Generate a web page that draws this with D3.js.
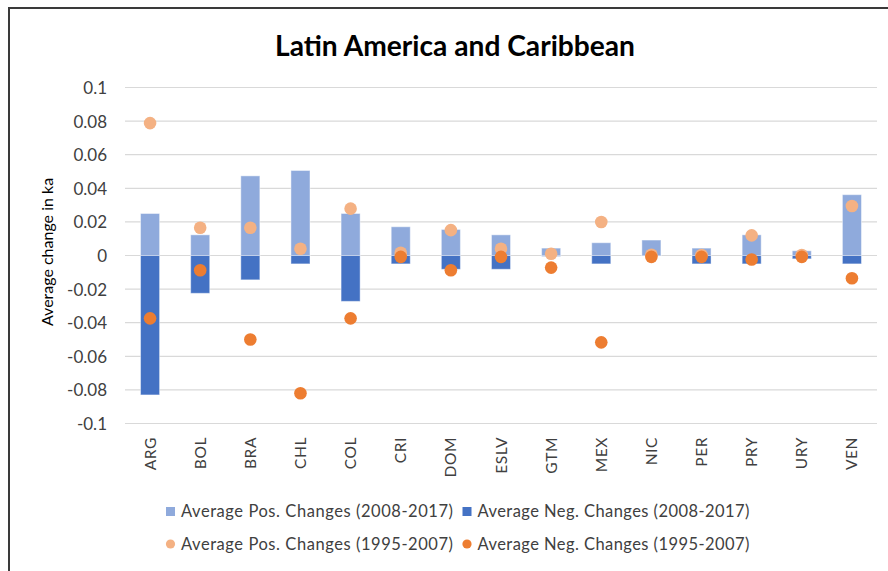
<!DOCTYPE html>
<html>
<head>
<meta charset="utf-8">
<script src="https://cdn.jsdelivr.net/npm/d3@7"></script>
<style>
  html, body { margin: 0; padding: 0; background: #fff; }
  svg { display: block; font-family: Lato, "Open Sans", sans-serif; }
</style>
</head>
<body>
<svg id="chart" width="888" height="571"></svg>
<script>
// Countries on the category axis
const countries = ["ARG", "BOL", "BRA", "CHL", "COL", "CRI", "DOM", "ESLV", "GTM", "MEX", "NIC", "PER", "PRY", "URY", "VEN"];

// Columns: average changes 2008-2017
const posChanges0817 = [0.025, 0.0123, 0.0474, 0.0506, 0.025, 0.0171, 0.0155, 0.0123, 0.0044, 0.0076, 0.0092, 0.0044, 0.0123, 0.0028, 0.0362];
const negChanges0817 = [-0.083, -0.0225, -0.0145, -0.005, -0.0273, -0.005, -0.0082, -0.0082, -0.0005, -0.005, -0.0003, -0.005, -0.005, -0.002, -0.005];

// Markers: average changes 1995-2007
const posChanges9507 = [0.0788, 0.0165, 0.0165, 0.004, 0.0279, 0.0016, 0.0151, 0.004, 0.001, 0.0199, 0.0004, 0.0003, 0.012, 0.0003, 0.0295];
const negChanges9507 = [-0.0374, -0.0088, -0.05, -0.082, -0.0374, -0.0008, -0.0088, -0.0008, -0.0072, -0.0517, -0.0008, -0.0008, -0.0024, -0.0008, -0.0135];

// Value axis ticks
const yTicks = [0.1, 0.08, 0.06, 0.04, 0.02, 0, -0.02, -0.04, -0.06, -0.08, -0.1];

const seriesNames = [
  "Average Pos. Changes (2008-2017)",
  "Average Neg. Changes (2008-2017)",
  "Average Pos. Changes (1995-2007)",
  "Average Neg. Changes (1995-2007)"
];

const colors = {
  posBar: "#8FAADC",
  negBar: "#4472C4",
  posDot: "#F4B183",
  negDot: "#ED7D31",
  grid: "#D9D9D9",
  text: "#404040"
};

const svg = d3.select("#chart");

// Outer chart frame
svg.append("rect")
  .attr("x", 9).attr("y", 8)
  .attr("width", 900).attr("height", 600)
  .attr("fill", "none")
  .attr("stroke", "#3a3a3a")
  .attr("stroke-width", 2);

const x = d3.scaleBand().domain(countries).range([125, 877]).padding(0);
const y = d3.scaleLinear().domain([-0.1, 0.1]).range([423.5, 87.5]);

const barW = x.bandwidth() * 0.38;
const cx = c => x(c) + x.bandwidth() / 2;
const fmt = v => String(+v.toFixed(2));

// Title
svg.append("text")
  .attr("x", 455).attr("y", 56)
  .attr("text-anchor", "middle")
  .attr("font-size", 28)
  .attr("font-weight", "bold")
  .attr("fill", "#000")
  .attr("textLength", 360)
  .attr("lengthAdjust", "spacingAndGlyphs")
  .text("Latin America and Caribbean");

// Horizontal gridlines
svg.append("g")
  .selectAll("line")
  .data(yTicks)
  .join("line")
  .attr("x1", 125).attr("x2", 877)
  .attr("y1", d => y(d)).attr("y2", d => y(d))
  .attr("stroke", colors.grid)
  .attr("stroke-width", 1.2);

// Value axis labels
const yAxis = d3.axisLeft(y).tickValues(yTicks).tickFormat(fmt).tickSize(0).tickPadding(0);
const gy = svg.append("g").attr("transform", "translate(107,0)").call(yAxis);
gy.select(".domain").remove();
gy.selectAll("text")
  .attr("font-family", "Lato, sans-serif")
  .attr("font-size", 17)
  .attr("fill", colors.text)
  .attr("dy", "0.35em");

// Value axis title
svg.append("text")
  .attr("transform", "translate(53,252) rotate(-90)")
  .attr("text-anchor", "middle")
  .attr("font-size", 16)
  .attr("fill", "#000")
  .text("Average change in ka");

// Stacked columns
const bars = svg.append("g");
bars.selectAll("rect.pos")
  .data(countries)
  .join("rect")
  .attr("class", "pos")
  .attr("x", d => cx(d) - barW / 2)
  .attr("width", barW)
  .attr("y", (d, i) => y(posChanges0817[i]))
  .attr("height", (d, i) => y(0) - y(posChanges0817[i]))
  .attr("fill", colors.posBar)
  .attr("stroke", "rgba(255,255,255,0.45)")
  .attr("stroke-width", 1);
bars.selectAll("rect.neg")
  .data(countries)
  .join("rect")
  .attr("class", "neg")
  .attr("x", d => cx(d) - barW / 2)
  .attr("width", barW)
  .attr("y", y(0))
  .attr("height", (d, i) => y(negChanges0817[i]) - y(0))
  .attr("fill", colors.negBar)
  .attr("stroke", "rgba(255,255,255,0.45)")
  .attr("stroke-width", 1);

// Markers
const dots = svg.append("g");
dots.selectAll("circle.pos")
  .data(countries)
  .join("circle")
  .attr("class", "pos")
  .attr("cx", d => cx(d))
  .attr("cy", (d, i) => y(posChanges9507[i]))
  .attr("r", 6.3)
  .attr("fill", colors.posDot);
dots.selectAll("circle.neg")
  .data(countries)
  .join("circle")
  .attr("class", "neg")
  .attr("cx", d => cx(d))
  .attr("cy", (d, i) => y(negChanges9507[i]))
  .attr("r", 6.3)
  .attr("fill", colors.negDot);

// Category labels, rotated
svg.append("g")
  .selectAll("text")
  .data(countries)
  .join("text")
  .attr("transform", d => `translate(${cx(d) + 5.5},437) rotate(-90)`)
  .attr("text-anchor", "end")
  .attr("font-size", 15.5)
  .attr("letter-spacing", 0.6)
  .attr("fill", colors.text)
  .text(d => d);

// Legend
const legendItems = [
  { name: seriesNames[0], color: colors.posBar, shape: "rect", x: 166, y: 511.5 },
  { name: seriesNames[1], color: colors.negBar, shape: "rect", x: 462.5, y: 511.5 },
  { name: seriesNames[2], color: colors.posDot, shape: "circle", x: 166, y: 544 },
  { name: seriesNames[3], color: colors.negDot, shape: "circle", x: 462.5, y: 544 }
];
const lg = svg.append("g").selectAll("g").data(legendItems).join("g");
lg.filter(d => d.shape === "rect").append("rect")
  .attr("x", d => d.x).attr("y", d => d.y - 4.5)
  .attr("width", 9).attr("height", 9)
  .attr("fill", d => d.color);
lg.filter(d => d.shape === "circle").append("circle")
  .attr("cx", d => d.x + 4.5).attr("cy", d => d.y)
  .attr("r", 4.6)
  .attr("fill", d => d.color);
lg.append("text")
  .attr("x", d => d.x + 15)
  .attr("y", d => d.y + 5.5)
  .attr("font-size", 16.5)
  .attr("fill", colors.text)
  .attr("textLength", 272)
  .attr("lengthAdjust", "spacing")
  .text(d => d.name);
</script>
</body>
</html>
